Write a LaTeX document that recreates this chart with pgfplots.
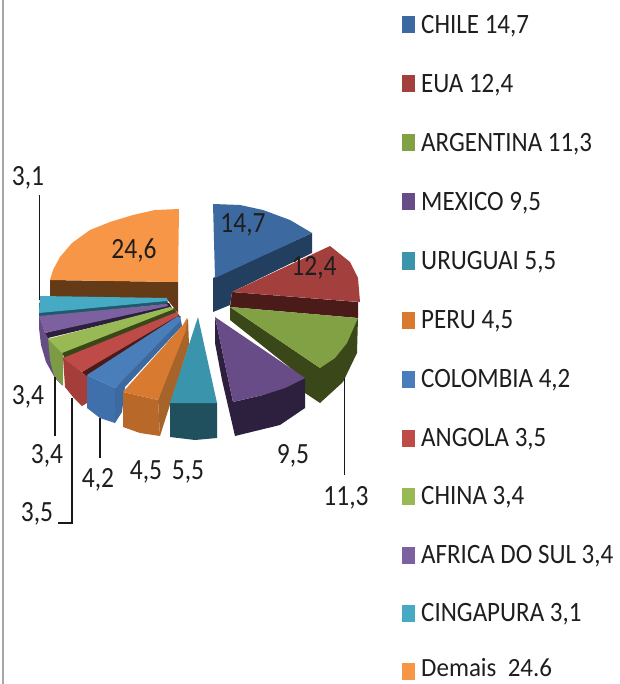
\documentclass[border=0pt]{standalone}
\usepackage{pgfplots}
\pgfplotsset{compat=1.18}
\usepackage{fontspec}
\setmainfont{Carlito}
\definecolor{cA}{HTML}{3C6AA0}\definecolor{cAs}{HTML}{223F5F}
\definecolor{cB}{HTML}{A33F3C}\definecolor{cBs}{HTML}{4B1B19}
\definecolor{cC}{HTML}{82A044}\definecolor{cCs}{HTML}{3A4719}
\definecolor{cD}{HTML}{684C88}\definecolor{cDs}{HTML}{2D203F}
\definecolor{cE}{HTML}{3A94AB}\definecolor{cEs}{HTML}{20505E}
\definecolor{cF}{HTML}{D87A30}\definecolor{cFs}{HTML}{A7642A}
\definecolor{cG}{HTML}{4A7EBB}\definecolor{cGs}{HTML}{4070AC}
\definecolor{cH}{HTML}{BE4B48}\definecolor{cHs}{HTML}{A53E3B}
\definecolor{cI}{HTML}{98B954}\definecolor{cIs}{HTML}{7D9A45}
\definecolor{cJ}{HTML}{7D60A0}\definecolor{cJs}{HTML}{664C85}
\definecolor{cK}{HTML}{46AAC5}\definecolor{cKs}{HTML}{1F5A6B}
\definecolor{cL}{HTML}{F79646}\definecolor{cLs}{HTML}{653A17}
\definecolor{txt}{HTML}{1E1E1E}
\newcommand\poly[2]{\addplot[fill=#1,draw=none,forget plot] coordinates {#2} --cycle;}
\newcommand\lead[1]{\addplot[black!90,line width=1.2pt,forget plot] coordinates {#1};}
\newcommand\lab[2]{\node[text=txt,inner sep=0pt] at (axis cs:#1) {\fontsize{25.5}{25}\selectfont\scalebox{1}[1.15]{#2}};}
\newcommand\leg[3]{\poly{#1}{(402,#2-8.5) (415,#2-8.5) (415,#2+8.5) (402,#2+8.5)}
\node[text=txt,inner sep=0pt,anchor=west] at (axis cs:421,#2+1) {\fontsize{25}{25}\selectfont\scalebox{1}[1.12]{#3}};}
\begin{document}
\begin{tikzpicture}
\begin{axis}[anchor=south west,at={(0,0)},scale only axis,width=619pt,height=684pt,
 xmin=0,xmax=619,ymin=0,ymax=684,y dir=reverse,axis lines=none,clip=false]
\addplot[gray!70,line width=1.2pt,forget plot] coordinates {(3,0) (3,684)};
% Demais
\poly{cLs}{(50,280) (178,282) (178,313) (166,298) (50,298)}
\poly{cL}{(179,209) (155,210) (133,215) (110,222) (90,230) (72,243) (60,257) (53,270) (50,280) (178,282)}
% Cingapura
\poly{cKs}{(39,303) (167,298) (168,304) (39,317)}
\poly{cK}{(40,296) (167,298) (167,301) (39,313)}
% Africa do Sul
\poly{cJs}{(39,315) (39,328) (41,345) (46,362) (55,378) (62,385) (62,345) (48,338) (45,333)}
\poly{cDs}{(45,333) (169,303) (172,308) (48,338)}
\poly{cJ}{(39,316) (167,304) (168,306) (45,333)}
% China
\poly{cIs}{(48,338) (50,360) (54,376) (63,386) (63,353)}
\poly{cCs}{(62,352) (174,308) (178,314) (63,359) (66,362)}
\poly{cI}{(48,339) (170,307) (174,309) (62,353)}
% Angola
\poly{cHs}{(63,357) (65,387) (73,397) (82,406) (87,403) (87,375) (82,372)}
\poly{cBs}{(82,372) (176,313) (181,317) (87,376)}
\poly{cH}{(63,358) (177,312) (179,315) (82,372)}
% Colombia
\poly{cGs}{(87,375) (87,408) (100,418) (115,423) (115,388)}
\poly{cA}{(115,388) (180,316) (182,326) (125,387) (122,412) (115,423)}
\poly{cG}{(87,375) (178,316) (181,320) (115,388)}
% Peru
\poly{cFs}{(158,400) (188,318) (189,345) (160,436)}
\poly{cF!85!black}{(123,392) (158,400) (160,436) (140,433) (123,427)}
\poly{cF}{(123,392) (183,325) (187,318) (186,330) (158,400)}
% Uruguai
\poly{cEs}{(170,403) (217,403) (217,438) (195,440) (170,437)}
\poly{cE}{(198,317) (217,403) (170,403)}
% Chile
\poly{cAs}{(213,278) (312,233) (312,253) (232,292) (230,305) (213,312)}
\poly{cA}{(213,204) (240,205) (263,210) (290,220) (312,233) (215,278)}
% EUA
\poly{cBs}{(232,292) (358,302) (358,318) (230,307)}
\poly{cB}{(232,292) (330,246) (350,262) (358,278) (360,302)}
% Argentina
\poly{cCs}{(230,307) (320,368) (358,318) (357,353) (343,382) (320,403) (305,393) (303,378) (230,320)}
\poly{cC}{(230,307) (358,318) (347,343) (335,358) (320,368)}
% Mexico
\poly{cDs}{(215,317) (233,402) (263,395) (305,378) (305,408) (280,425) (235,436) (222,380) (215,343)}
\poly{cD}{(215,317) (305,378) (285,388) (263,395) (233,402)}
% leaders
\lead{(39.5,195) (39.5,300)}
\lead{(344.5,378) (344.5,475)}
\lead{(55,377) (55,436)}
\lead{(100,418) (100,458)}
\lead{(72,398) (72,523) (58,523)}
% labels
\lab{243,225}{14,7}
\lab{314,268}{12,4}
\lab{134,250}{24,6}
\lab{28,178}{3,1}
\lab{293,456}{9,5}
\lab{346,498}{11,3}
\lab{188,472}{5,5}
\lab{146,472}{4,5}
\lab{98,480}{4,2}
\lab{28,397}{3,4}
\lab{47,456}{3,4}
\lab{37,514}{3,5}
% legend
\leg{cA}{25}{CHILE 14,7}
\leg{cB}{84}{EUA 12,4}
\leg{cC}{143}{ARGENTINA 11,3}
\leg{cD}{202}{MEXICO 9,5}
\leg{cE}{261}{URUGUAI 5,5}
\leg{cF}{320}{PERU 4,5}
\leg{cG}{379}{COLOMBIA 4,2}
\leg{cH}{438}{ANGOLA 3,5}
\leg{cI}{496}{CHINA 3,4}
\leg{cJ}{555}{AFRICA DO SUL 3,4}
\leg{cK}{613}{CINGAPURA 3,1}
\poly{cL}{(402,663) (415,663) (415,680) (402,680)}
\node[text=txt,inner sep=0pt,anchor=west] at (axis cs:421,668) {\fontsize{25}{25}\selectfont\scalebox{1}[1.05]{Demais\ \ 24.6}};
\end{axis}
\pgfresetboundingbox
\path[use as bounding box] (0,0) rectangle (619pt,684pt);
\end{tikzpicture}
\end{document}
